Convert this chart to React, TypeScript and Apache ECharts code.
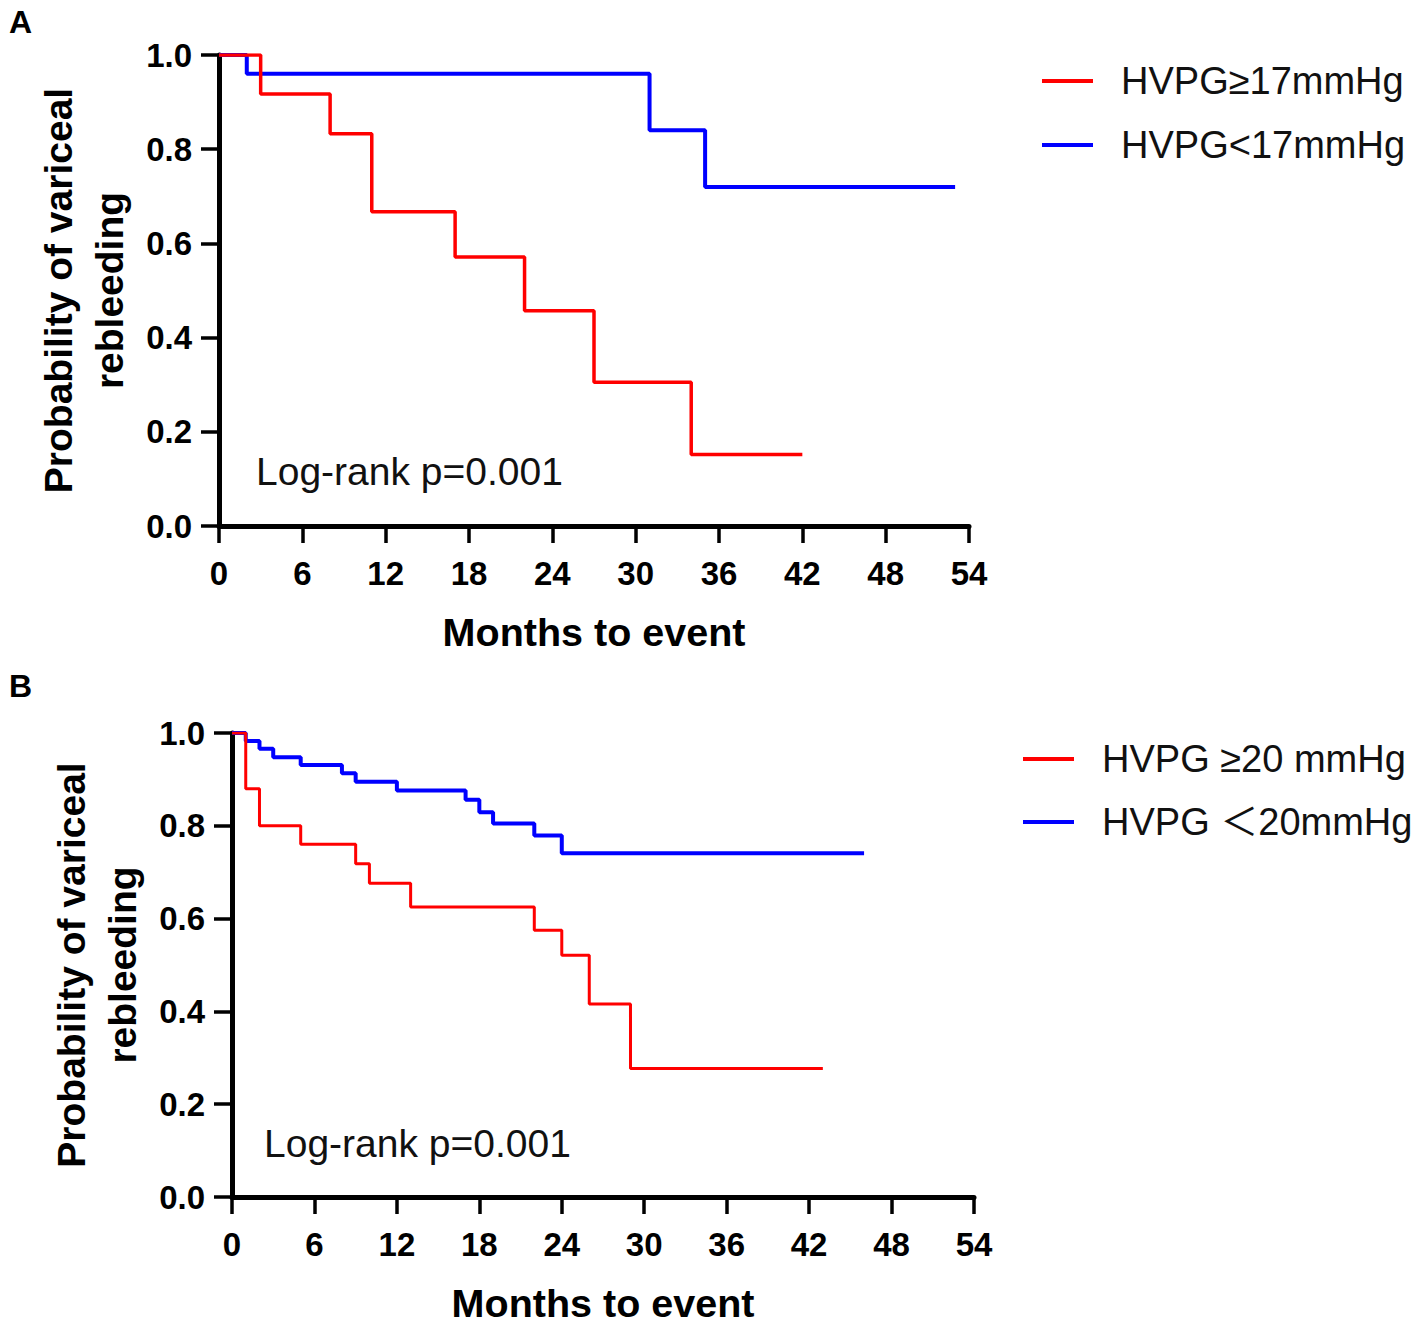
import React, { useEffect, useRef } from "react";
import * as echarts from "echarts";

// Panel A data (months, survival probability)
const timesAHigh = [0, 3, 8, 11, 17, 22, 27, 34, 42];
const survAHigh = [1, 0.917, 0.833, 0.667, 0.571, 0.457, 0.305, 0.152, 0.152];
const timesALow = [0, 2, 31, 35, 53];
const survALow = [1, 0.96, 0.84, 0.72, 0.72];

// Panel B data
const timesBHigh = [0, 1, 2, 5, 9, 10, 13, 22, 24, 26, 29, 43];
const survBHigh = [1, 0.88, 0.8, 0.76, 0.718, 0.676, 0.625, 0.575, 0.521, 0.416, 0.277, 0.277];
const timesBLow = [0, 1, 2, 3, 5, 8, 9, 12, 17, 18, 19, 22, 24, 46];
const survBLow = [1, 0.983, 0.966, 0.948, 0.931, 0.913, 0.895, 0.876, 0.856, 0.829, 0.805, 0.779, 0.741, 0.741];

const legendA = ["HVPG≥17mmHg", "HVPG<17mmHg"];
const legendB = ["HVPG ≥20 mmHg", "HVPG ＜20mmHg"];
const pText = "Log-rank p=0.001";
const xTitle = "Months to event";
const yTitle = "Probability of variceal\nrebleeding";

const FONT = "'Liberation Sans', Arial, 'Noto Sans CJK SC', sans-serif";
const RED = "#ff0000";
const BLUE = "#0000ff";

const pairs = (t: number[], s: number[]) => t.map((v, i) => [v, s[i]]);

function xAxisFor(gridIndex: number) {
  return {
    type: "value",
    gridIndex,
    min: 0,
    max: 54,
    interval: 6,
    name: xTitle,
    nameLocation: "middle",
    nameGap: 86,
    nameTextStyle: { fontFamily: FONT, fontWeight: "bold", fontSize: 39.5, color: "#000" },
    axisLine: { show: true, onZero: false, lineStyle: { color: "#000", width: 5 } },
    axisTick: { show: true, length: 17, lineStyle: { color: "#000", width: 3.5 } },
    axisLabel: { fontFamily: FONT, fontWeight: "bold", fontSize: 33, color: "#000", margin: 31 },
    splitLine: { show: false },
  };
}

function yAxisFor(gridIndex: number, gap: number) {
  return {
    type: "value",
    gridIndex,
    min: 0,
    max: 1,
    interval: 0.2,
    name: yTitle,
    nameLocation: "middle",
    nameGap: gap,
    nameTextStyle: { fontFamily: FONT, fontWeight: "bold", fontSize: 39, color: "#000", lineHeight: 51 },
    axisLine: { show: true, onZero: false, lineStyle: { color: "#000", width: 5 } },
    axisTick: { show: true, length: 18, lineStyle: { color: "#000", width: 3.5 } },
    axisLabel: {
      fontFamily: FONT,
      fontWeight: "bold",
      fontSize: 33,
      color: "#000",
      margin: 27,
      formatter: (v: number) => v.toFixed(1),
    },
    splitLine: { show: false },
  };
}

function legendItem(x: number, y: number, color: string, label: string) {
  return [
    { type: "line", shape: { x1: x, y1: y, x2: x + 51, y2: y }, style: { stroke: color, lineWidth: 4 } },
    {
      type: "text",
      x: x + 79,
      y,
      style: { text: label, fontFamily: FONT, fontSize: 38, fill: "#111", textVerticalAlign: "middle", textAlign: "left" },
    },
  ];
}

export default function App() {
  const ref = useRef<HTMLDivElement>(null);
  useEffect(() => {
    if (!ref.current) return;
    const chart = echarts.init(ref.current, null, { renderer: "svg" });
    chart.setOption({
      animation: false,
      backgroundColor: "#fff",
      grid: [
        { left: 219, top: 55, width: 750, height: 471 },
        { left: 232, top: 733, width: 742, height: 464 },
      ],
      xAxis: [xAxisFor(0), xAxisFor(1)],
      yAxis: [yAxisFor(0, 82), yAxisFor(1, 84)],
      series: [
        {
          type: "line", name: legendA[1], xAxisIndex: 0, yAxisIndex: 0, step: "end", showSymbol: false,
          data: pairs(timesALow, survALow), lineStyle: { color: BLUE, width: 4 }, itemStyle: { color: BLUE },
        },
        {
          type: "line", name: legendA[0], xAxisIndex: 0, yAxisIndex: 0, step: "end", showSymbol: false,
          data: pairs(timesAHigh, survAHigh), lineStyle: { color: RED, width: 3.5 }, itemStyle: { color: RED },
        },
        {
          type: "line", name: legendB[1], xAxisIndex: 1, yAxisIndex: 1, step: "end", showSymbol: false,
          data: pairs(timesBLow, survBLow), lineStyle: { color: BLUE, width: 4 }, itemStyle: { color: BLUE },
        },
        {
          type: "line", name: legendB[0], xAxisIndex: 1, yAxisIndex: 1, step: "end", showSymbol: false,
          data: pairs(timesBHigh, survBHigh), lineStyle: { color: RED, width: 3 }, itemStyle: { color: RED },
        },
      ],
      graphic: [
        { type: "text", x: 9, y: 22, style: { text: "A", fontFamily: FONT, fontWeight: "bold", fontSize: 32, fill: "#000", textVerticalAlign: "middle" } },
        { type: "text", x: 9, y: 686, style: { text: "B", fontFamily: FONT, fontWeight: "bold", fontSize: 32, fill: "#000", textVerticalAlign: "middle" } },
        ...legendItem(1042, 81, RED, legendA[0]),
        ...legendItem(1042, 145, BLUE, legendA[1]),
        ...legendItem(1023, 759, RED, legendB[0]),
        ...legendItem(1023, 822, BLUE, legendB[1]),
        { type: "text", x: 256, y: 471, style: { text: pText, fontFamily: FONT, fontSize: 39, fill: "#111", textVerticalAlign: "middle" } },
        { type: "text", x: 264, y: 1143, style: { text: pText, fontFamily: FONT, fontSize: 39, fill: "#111", textVerticalAlign: "middle" } },
      ],
    });
    return () => chart.dispose();
  }, []);
  return (
    <div
      ref={ref}
      style={{ position: "fixed", left: 0, top: 0, width: 1418, height: 1325, background: "#fff" }}
    />
  );
}
